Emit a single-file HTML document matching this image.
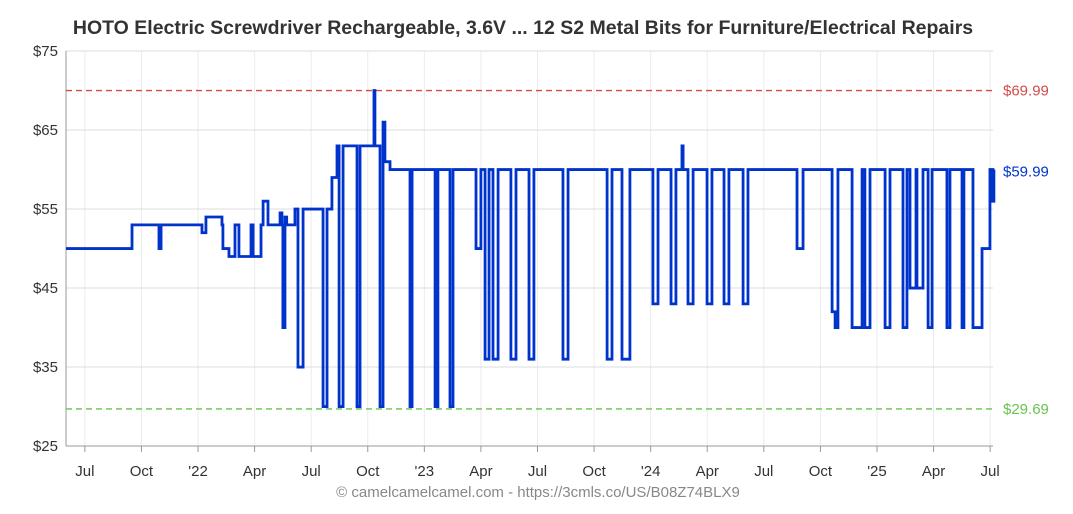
<!DOCTYPE html>
<html><head><meta charset="utf-8">
<style>
body{margin:0;background:#fff;}
svg{display:block;font-family:"Liberation Sans",sans-serif;}
</style></head>
<body>
<svg id="chart" width="1073" height="514" viewBox="0 0 1073 514">
<rect width="1073" height="514" fill="#fff"/>
<text x="523" y="34" text-anchor="middle" font-size="19.5" font-weight="bold" fill="#333">HOTO Electric Screwdriver Rechargeable, 3.6V ...  12 S2 Metal Bits for Furniture/Electrical Repairs</text>
<g id="grid"></g>
<g id="axes"></g>
<g id="series"></g>
<text x="538" y="497" text-anchor="middle" font-size="15" fill="#888">© camelcamelcamel.com - https://3cmls.co/US/B08Z74BLX9</text>
</svg>
<script>
// months since 2021-06-01
const xTickLabels = ["Jul","Oct","'22","Apr","Jul","Oct","'23","Apr","Jul","Oct","'24","Apr","Jul","Oct","'25","Apr","Jul"];
const xTickMonths = [1,4,7,10,13,16,19,22,25,28,31,34,37,40,43,46,49];
const yTicks = [25,35,45,55,65,75];
const highestPrice = 69.99;
const lowestPrice = 29.69;
const currentPrice = 59.99;
const amazonMonths = [0,3.5,4.93,5.04,7.21,7.42,8.27,8.32,8.64,8.96,9.17,9.81,9.92,10.34,10.45,10.71,11.35,11.45,11.5,11.61,11.7,12.14,12.30,12.57,13.63,13.84,14.10,14.37,14.48,14.69,15.43,15.59,16.33,16.38,16.65,16.81,16.91,17.18,18.24,18.35,19.57,19.72,20.36,20.52,21.74,22.00,22.22,22.43,22.64,22.91,23.59,23.86,24.55,24.81,26.35,26.62,28.69,28.95,29.48,29.90,31.12,31.39,32.08,32.34,32.66,32.72,32.98,33.25,33.99,34.25,34.89,35.15,35.90,36.16,38.76,39.08,40.62,40.78,40.93,41.68,42.21,42.36,42.63,43.43,43.69,44.38,44.59,44.75,45.07,45.12,45.44,45.71,45.92,46.71,46.87,47.51,47.61,48.09,48.57,48.99,49.05,49.10,49.15,49.20];
const amazonPrices = [49.99,52.99,49.99,52.99,51.99,53.99,52.99,49.99,48.99,52.99,48.99,52.99,48.99,52.99,55.99,52.99,54.5,52.99,39.99,53.99,52.99,54.99,34.99,54.99,29.99,54.99,58.99,62.99,29.99,62.99,29.99,62.99,69.99,62.99,29.99,65.99,60.99,59.99,29.99,59.99,29.99,59.99,29.99,59.99,49.99,59.99,35.99,59.99,35.99,59.99,35.99,59.99,35.99,59.99,35.99,59.99,35.99,59.99,35.99,59.99,42.99,59.99,42.99,59.99,62.99,59.99,42.99,59.99,42.99,59.99,42.99,59.99,42.99,59.99,49.99,59.99,41.99,39.99,59.99,39.99,59.99,39.99,59.99,39.99,59.99,39.99,59.99,44.99,59.99,44.99,59.99,39.99,59.99,39.99,59.99,39.99,59.99,39.99,49.99,59.99,55.99,59.99,55.99,59.99];

const L=66,R=993,T=51,B=446;
const xs=m=>L+m*18.86;
const ys=p=>T+(75-p)*(B-T)/50;
const NS="http://www.w3.org/2000/svg";
function mk(tag,attrs,parent){const e=document.createElementNS(NS,tag);for(const k in attrs)e.setAttribute(k,attrs[k]);parent.appendChild(e);return e;}
const grid=document.getElementById('grid'),axes=document.getElementById('axes'),ser=document.getElementById('series');

xTickMonths.forEach((m,i)=>{
  const gl=mk('line',{x1:xs(m),x2:xs(m),y1:T,y2:B,stroke:'#ebebeb','stroke-width':1},grid);
  
  
  const tk=mk('line',{x1:xs(m),x2:xs(m),y1:B,y2:B+6,stroke:'#999','stroke-width':1},axes);
  
  
  const t=mk('text',{x:xs(m),y:B+30,'text-anchor':'middle','font-size':15,fill:'#333'},axes);
  t.textContent=xTickLabels[i];
  
  
});
yTicks.forEach(v=>{
  const gl=mk('line',{x1:L,x2:R,y1:ys(v),y2:ys(v),stroke:'#dcdcdc','stroke-width':1},grid);
  
  
  const t=mk('text',{x:58,y:ys(v)+5,'text-anchor':'end','font-size':15,fill:'#333'},axes);
  t.textContent='$'+v;
  
  
});
const ax=mk('line',{x1:L,x2:L,y1:T,y2:B,stroke:'#999','stroke-width':1},axes);


const bx=mk('line',{x1:L,x2:R,y1:B,y2:B,stroke:'#999','stroke-width':1},axes);



function refLine(p,color,label,name){
  const l=mk('line',{x1:L,x2:R,y1:ys(p),y2:ys(p),stroke:color,'stroke-width':1.3,'stroke-dasharray':'6,4'},ser);
  
  
  const t=mk('text',{x:1003,y:ys(p)+5,'font-size':15,fill:color},ser);
  t.textContent=label;
  
  
}
refLine(highestPrice,'#d24b4b','$'+highestPrice.toFixed(2),'highest-price');
refLine(lowestPrice,'#66c450','$'+lowestPrice.toFixed(2),'lowest-price');

let d='';
for(let i=0;i<amazonMonths.length;i++){
  const x=xs(amazonMonths[i]),y=ys(amazonPrices[i]);
  if(i===0)d+='M'+x+','+y;
  else d+='H'+x+'V'+y;
}
const path=mk('path',{d:d,fill:'none',stroke:'#0033cc','stroke-width':2.8,'stroke-linejoin':'miter'},ser);


const ct=mk('text',{x:1003,y:ys(currentPrice)+7,'font-size':15,fill:'#0033cc'},ser);
ct.textContent='$'+currentPrice.toFixed(2);


</script>
</body></html>
